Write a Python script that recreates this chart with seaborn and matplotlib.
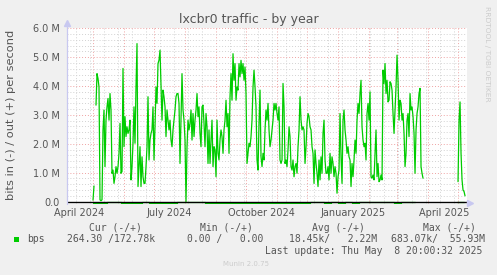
import numpy as np
import pandas as pd
import matplotlib
matplotlib.use("Agg")
import matplotlib.pyplot as plt
import matplotlib.dates as mdates
from matplotlib.patches import Rectangle
from matplotlib.ticker import FixedLocator, MultipleLocator
import seaborn as sns

# ---------------- data ----------------
title = "lxcbr0 traffic - by year"
ylabel = "bits in (-) / out (+) per second"

# daily "out" traffic in Mbit/s (None = no data)
out_start = "2024-04-30 17:00"
out_mbps = [
    0.05, 0.54, None, 3.34, 4.43, 4.26, 3.97, 0.06, 0.03, 0.06,
    2.48, 3.17, 1.21, 2.82, 3.28, 3.57, 2.82, 3.74, 3.17, 0.98,
    1.09, 0.63, 0.86, 1.21, 0.98, 1.21, 1.67, 2.71, 0.98, 1.04,
    4.61, 1.90, 2.94, 2.25, 2.59, 2.36, 2.48, 2.82, 0.75, 1.21,
    2.02, 3.28, 2.02, 3.97, 5.47, 0.52, 1.21, 1.90, 0.52, 1.55,
    0.86, 0.63, 0.63, 1.21, 1.90, 3.63, 1.44, 2.13, 2.36, 2.48,
    3.28, 1.44, 2.59, 3.97, 3.40, 4.78, 4.90, 5.24, 3.97, 2.82,
    3.86, 3.63, 3.28, 2.25, 3.17, 2.82, 2.48, 2.82, 2.13, 1.90,
    2.48, 2.82, 3.17, 3.63, 3.74, 3.74, 3.40, 1.32, 2.82, 4.43,
    3.17, 2.82, 2.13, 0.00, 1.90, 2.82, 2.48, 2.71, 3.17, 2.13,
    3.05, 2.25, 2.82, 3.17, 3.74, 2.94, 3.28, 2.36, 1.90, 3.28,
    3.34, 2.71, 1.90, 3.05, 2.59, 1.32, 2.48, 1.32, 2.13, 2.82,
    1.21, 1.90, 1.79, 0.86, 2.82, 1.67, 1.44, 2.13, 2.48, 2.25,
    1.67, 2.48, 2.82, 3.51, 2.59, 3.05, 1.67, 3.63, 4.43, 3.51,
    5.12, 4.20, 4.78, 3.51, 3.97, 3.86, 4.78, 4.32, 4.89, 4.43,
    4.78, 4.20, 4.66, 3.74, 1.32, 1.67, 2.02, 1.90, 2.25, 2.82,
    3.97, 4.55, 3.97, 3.28, 1.44, 1.09, 2.71, 3.86, 1.55, 1.21,
    1.67, 1.44, 2.48, 3.17, 2.82, 3.40, 2.48, 1.90, 2.13, 2.48,
    2.82, 3.40, 3.17, 3.40, 3.05, 2.82, 3.28, 1.44, 1.32, 1.44,
    4.09, 3.28, 1.32, 1.44, 1.21, 1.79, 2.59, 2.25, 1.21, 1.09,
    1.44, 0.86, 1.21, 1.32, 0.98, 1.90, 2.48, 3.63, 2.82, 2.48,
    2.59, 2.48, 1.32, 1.90, 2.71, 3.05, 2.94, 2.59, 2.48, 1.90,
    1.67, 0.63, 1.79, 1.32, 0.98, 0.52, 1.44, 0.75, 1.55, 0.98,
    2.36, 2.82, 1.44, 0.98, 0.98, 1.21, 0.75, 1.67, 0.98, 1.55,
    1.32, 0.86, 1.21, 0.98, 0.29, 0.86, 1.09, 3.05, 1.55, 0.63,
    2.82, 3.17, 2.48, 2.13, 1.67, 1.90, 1.55, 1.44, 0.52, 1.32,
    0.86, 1.44, 2.13, 1.67, 2.82, 3.40, 3.05, 3.74, 4.20, 2.59,
    2.13, 1.90, 2.02, 1.44, 3.05, 3.40, 2.82, 3.80, 0.86, 0.81,
    0.92, 0.75, 1.67, 2.48, 0.86, 1.32, 0.69, 0.75, 0.92, 0.75,
    4.55, 4.09, 4.78, 3.74, 4.20, 3.45, 3.51, 4.15, 4.09, 3.86,
    3.05, 2.36, 3.17, 3.97, 5.07, 4.20, 2.82, 3.51, 3.40, 2.82,
    3.05, 2.36, 1.21, 1.67, 2.82, 3.05, 2.25, 3.74, 3.17, 3.28,
    2.94, 2.36, 0.98, 2.48, 3.05, 3.28, 3.74, 3.92, 1.21, 0.98,
    0.81,
    None, None, None, None, None, None, None, None, None, None,
    None, None, None, None, None, None, None, None, None, None,
    None, None, None, None, None, None, None, None, None, None,
    None, None, None, None,
    0.69, 2.82, 3.45, 1.67, 0.75, 0.40, 0.35, 0.20,
]

# weekly "in" traffic in Mbit/s (drawn negative)
in_start = "2024-04-30 17:00"
in_mbps = [
    0.045, 0.045, 0.01, 0.005, 0.045, 0.045, 0.045, 0.01, 0.045, 0.045,
    0.045, 0.045, 0.03, 0.01, 0.005, 0.005, 0.045, 0.045, 0.045, 0.045,
    0.045, 0.045, 0.045, 0.045, 0.045, 0.045, 0.045, 0.045, 0.045, 0.045,
    0.045, 0.01, 0.005, 0.045, 0.005, 0.045, 0.005, 0.045, 0.005, 0.005,
    0.005, 0.005, 0.005, 0.045, 0.005, 0.005, 0.005,
    None, None, None, None, None,
    0.005, 0.005,
]

x_start, x_end = "2024-04-04 05:00", "2025-05-09 09:00"
month_label_text = ["April 2024", "July 2024", "October 2024", "January 2025", "April 2025"]
month_label_dates = ["2024-04-16 12:00", "2024-07-16", "2024-10-16 12:00", "2025-01-16", "2025-04-16 12:00"]
major_grid_dates = ["2024-05-01", "2024-06-01", "2024-07-01", "2024-08-01", "2024-09-01",
                    "2024-10-01", "2024-11-01", "2024-12-01", "2025-01-01", "2025-02-01",
                    "2025-03-01", "2025-04-01", "2025-05-01"]
minor_grid_start = "2024-04-14"
y_ticks = [0, 1e6, 2e6, 3e6, 4e6, 5e6, 6e6]
y_tick_labels = ["0.0", "1.0 M", "2.0 M", "3.0 M", "4.0 M", "5.0 M", "6.0 M"]

series_name = "bps"
legend_headers = ["Cur (-/+)", "Min (-/+)", "Avg (-/+)", "Max (-/+)"]
legend_values = ["264.30 /172.78k", "0.00 /   0.00", "18.45k/   2.22M", "683.07k/  55.93M"]
last_update = "Last update: Thu May  8 20:00:32 2025"
footer = "Munin 2.0.75"
side_text = "RRDTOOL / TOBI OETIKER"

# ---------------- style ----------------
sns.set_style("white")
plt.rcParams["font.family"] = ["DejaVu Sans"]

W, H = 497, 275
GREEN = "#00CC00"
TXT = "#555555"

fig = plt.figure(figsize=(W / 100, H / 100), dpi=100, facecolor="#F0F0F0")
L, R, T, B = 66.5, 466.7, 28.3, 203.6
ax = fig.add_axes([L / W, 1 - B / H, (R - L) / W, (B - T) / H])
ax.set_facecolor("white")

def fp(x, y):
    return x / W, 1 - y / H

# out series
out_dates = pd.date_range(out_start, periods=len(out_mbps), freq="D")
df_out = pd.DataFrame({"date": out_dates, "bps": np.array(out_mbps, dtype=float) * 1e6})
df_out["segment"] = df_out["bps"].isna().cumsum()
df_out = df_out.dropna()
sns.lineplot(data=df_out, x="date", y="bps", units="segment", estimator=None, sort=False,
             color=GREEN, lw=0.9, ax=ax, legend=False, zorder=3)

# in series (negative)
in_dates = pd.date_range(in_start, periods=len(in_mbps), freq="7D")
df_in = pd.DataFrame({"date": in_dates, "bps": -np.array(in_mbps, dtype=float) * 1e6})
df_in["segment"] = df_in["bps"].isna().cumsum()
df_in = df_in.dropna()
sns.lineplot(data=df_in, x="date", y="bps", units="segment", estimator=None, sort=False,
             color=GREEN, lw=0.9, ax=ax, legend=False, drawstyle="steps-post", zorder=3)

ax.axhline(0, color="black", lw=1.0, zorder=4)

ax.set_xlim(pd.Timestamp(x_start), pd.Timestamp(x_end))
ax.set_ylim(-0.07e6, 6e6)

# grid
maj = mdates.date2num(pd.to_datetime(major_grid_dates))
mnr = mdates.date2num(pd.date_range(minor_grid_start, x_end, freq="14D"))
ax.xaxis.set_major_locator(FixedLocator(maj))
ax.xaxis.set_minor_locator(FixedLocator(mnr))
ax.yaxis.set_major_locator(FixedLocator(y_ticks))
ax.yaxis.set_minor_locator(MultipleLocator(0.2e6))
ax.set_yticklabels(y_tick_labels)
ax.grid(which="minor", color="#D2D2D2", ls=(0, (1, 2)), lw=0.7)
ax.grid(which="major", color="#EFA3A3", ls=(0, (1, 2)), lw=0.7)
ax.set_axisbelow(True)

ax.tick_params(axis="x", which="both", labelbottom=False, length=2.5, width=0.7, direction="out")
ax.tick_params(axis="x", which="major", color="#EFA3A3")
ax.tick_params(axis="x", which="minor", color="#CCCCCC")
ax.tick_params(axis="y", which="major", length=2, width=0.7, color="#EFA3A3",
               labelsize=7, labelcolor=TXT, pad=3)
ax.tick_params(axis="y", which="minor", length=0)
ax.set_xlabel("")
ax.set_ylabel("")
for s in ax.spines.values():
    s.set_visible(False)

# axis lines and arrows
ax.plot([0, 0], [0, 1.02], transform=ax.transAxes, color="#C8C8F0", lw=0.9, clip_on=False, zorder=5)
ax.plot([0], [1.028], transform=ax.transAxes, marker="^", ms=4, color="#C8C8F0", clip_on=False, zorder=5)
ax.plot([1.009], [(B - 202.5) / (B - T)], transform=ax.transAxes, marker=">", ms=4,
        color="#C8C8F0", clip_on=False, zorder=5)

# x labels
for txt, d in zip(month_label_text, month_label_dates):
    ax.text(mdates.date2num(pd.Timestamp(d)), (B - 212.5) / (B - T), txt,
            transform=ax.get_xaxis_transform(), ha="center", va="center",
            fontsize=7, color=TXT)

# titles
fig.text(*fp(249, 19), title, ha="center", va="center", fontsize=9, color=TXT)
fig.text(*fp(11.5, 115), ylabel, rotation=90, ha="center", va="center", fontsize=8.2, color=TXT)
fig.text(*fp(487.5, 53.5), side_text, rotation=270, ha="center", va="center",
         fontsize=5.4, color="#CCCCCC")

# legend
mono = "DejaVu Sans Mono"
fig.add_artist(Rectangle(fp(14, 241.7), 5.3 / W, 5 / H, transform=fig.transFigure,
                         facecolor=GREEN, edgecolor="none"))
fig.text(*fp(26.7, 239.3), series_name, family=mono, fontsize=7, color=TXT, ha="left", va="center")
for txt, x in zip(legend_headers, [89.3, 200, 312, 423]):
    fig.text(*fp(x, 227.7), txt, family=mono, fontsize=7, color=TXT, ha="left", va="center")
for txt, x in zip(legend_values, [66.7, 186.7, 289.3, 391]):
    fig.text(*fp(x, 239.3), txt, family=mono, fontsize=7, color=TXT, ha="left", va="center")
fig.text(*fp(482.7, 251), last_update, family=mono, fontsize=7, color=TXT, ha="right", va="center")
fig.text(*fp(222.7, 264), footer, fontsize=5, color="#CCCCCC", ha="left", va="center")

fig.savefig("out.png", dpi=100, facecolor=fig.get_facecolor())
